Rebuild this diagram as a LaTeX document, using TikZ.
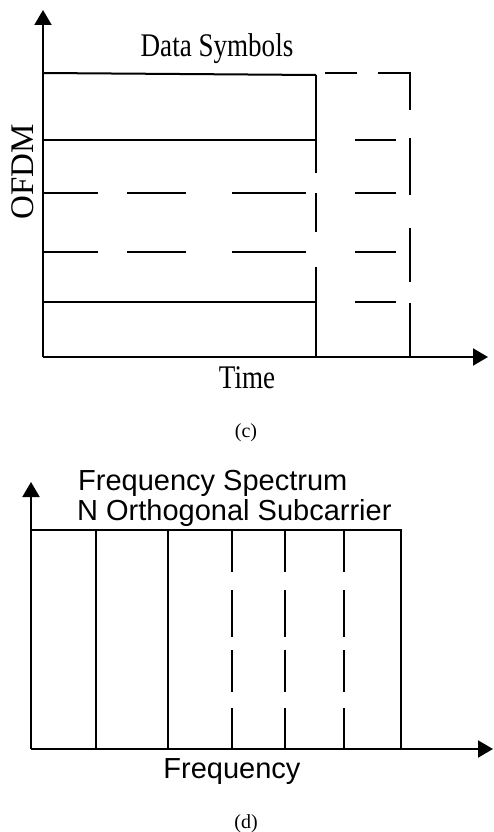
\documentclass[tikz,border=0pt]{standalone}
\usepackage{fontspec}
\setmainfont{Liberation Serif}
\setsansfont{Liberation Sans}
\usetikzlibrary{arrows.meta}
\tikzset{
  axis/.style={-{Triangle[length=15pt,width=17pt]}, line width=2pt},
  sig/.style={line width=2pt},
  tone/.style={line width=2.6pt},
  lbl/.style={font=\fontsize{33}{36}\selectfont, inner sep=0pt},
  sflbl/.style={font=\sffamily\fontsize{29}{30}\selectfont, inner sep=0pt},
  caplbl/.style={font=\fontsize{20}{22}\selectfont, inner sep=0pt}
}
\newcommand{\narrow}[1]{\scalebox{0.82}[1]{#1}}

\begin{document}
\begin{tikzpicture}[x=1pt,y=-1pt]
\useasboundingbox (0,0) rectangle (493,832);
% (c) symbols in time
\coordinate (o1) at (43,357);
\coordinate (ytip1) at (43,10);
\coordinate (xtip1) at (488,357);
\draw[axis] (o1) -- (ytip1);
\draw[axis] (o1) -- (xtip1);
\draw[sig] (43,73) -- (316,75);
\foreach \y in {140,302}{
  \draw[sig] (43,\y) -- (316,\y);
  \draw[sig] (355,\y) -- (396,\y);
}
\foreach \y in {193,252}{
  \draw[sig, dash pattern=on 55pt off 29pt on 59pt off 46pt on 74pt off 49pt on 41pt off 20pt] (43,\y) -- (396,\y);
}
\draw[sig, dash pattern=on 98pt off 20pt on 39pt off 35pt on 90pt off 10pt] (316,75) -- (316,357);
\draw[sig, miter limit=4, dash pattern=on 32pt off 21pt on 69pt off 28pt on 57pt off 33pt on 54pt off 21pt on 54pt off 10pt] (325,73) -- (410,73) -- (410,357);
\node[lbl, anchor=base] (datalbl) at (217,57) {\narrow{Data Symbols}};
\node[lbl, rotate=90] (ofdmlbl) at (23,172) {OFDM};
\node[lbl, anchor=base] (timelbl) at (247,388) {\narrow{Time}};
\node[caplbl] (capc) at (246,433) {(c)};
% (d) subcarriers in frequency
\coordinate (o2) at (31,749);
\coordinate (ytip2) at (31,482);
\coordinate (xtip2) at (493,749);
\draw[axis] (o2) -- (ytip2);
\draw[axis] (o2) -- (xtip2);
\draw[tone] (31,530) -- (401,530) -- (401,749);
\foreach \x in {96,168}{\draw[tone] (\x,530) -- (\x,749);}
\foreach \x in {232,285,344}{
  \draw[tone, dash pattern=on 42pt off 18pt on 47pt off 13pt on 42pt off 16pt on 41pt off 10pt] (\x,530) -- (\x,749);
}
\node[sflbl, anchor=base west] (speclbl) at (78,490) {Frequency Spectrum};
\node[sflbl, anchor=base west] (sublbl) at (77,520) {N Orthogonal Subcarrier};
\node[sflbl, anchor=base] (freqlbl) at (232,778) {Frequency};
\node[caplbl] (capd) at (246,824) {(d)};
\end{tikzpicture}
\end{document}
